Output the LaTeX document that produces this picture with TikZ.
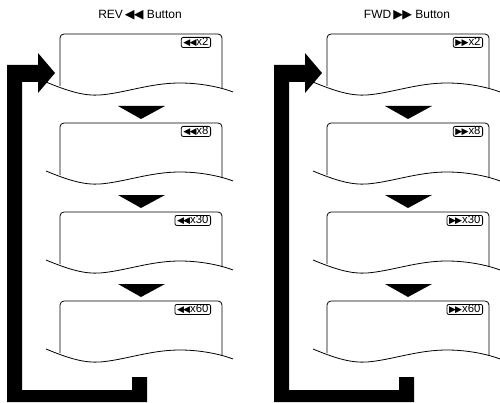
\documentclass[tikz,border=0pt]{standalone}
\usepackage{fontspec}
\setmainfont{Liberation Sans}
\newfontfamily\symfont{DejaVu Sans}

\tikzset{every picture/.style={line width=0.75pt}}
\tikzset{
  screen/.style={line width=0.6pt, rounded corners=3},
  wave/.style={line width=0.6pt},
  speed/.style={draw, rounded corners=1.5, line width=0.6pt, inner xsep=1.6pt, inner ysep=0.4pt, font=\fontsize{8.5}{8.5}\selectfont},
  title/.style={font=\fontsize{9}{10}\selectfont},
  stepdown/.style={fill=black},
  loopback/.style={fill=black}
}

\begin{document}
\begin{tikzpicture}[x=0.75pt,y=0.75pt,yscale=-1,xscale=1]
		\useasboundingbox (0,0) rectangle (500,403);
		
		%one column for each button
		\foreach \dx/\tri/\lx/\side/\word in {0/◀/211/rev/REV, 267/▶/216/fwd/FWD} {
		\begin{scope}[shift={(\dx,0)}]
		\node[title] (\side-title) at (140,15) {\word\,{\symfont\scalebox{1.05}{\tri\kern-0.5pt\tri}} Button};
		
		%Shape: screens with torn bottom
		\foreach \i/\n in {0/2,1/8,2/30,3/60} {
			\pgfmathsetmacro\yt{34+89*\i}
			\draw[screen] (60,\yt+52) -- (60,\yt) -- (222,\yt) -- (222,\yt+55) ;
			\draw[wave] (46,\yt+48) .. controls (70,\yt+58) and (85,\yt+62) .. (100,\yt+61) .. controls (125,\yt+59) and (150,\yt+49) .. (180,\yt+49) .. controls (200,\yt+49) and (220,\yt+53) .. (233,\yt+58) ;
			\node[speed, anchor=north east] (\side-x\n) at (\lx,\yt+3) {{\symfont\scalebox{0.8}{\tri\kern-0.8pt\tri}}x\n};
		}
		
		%Shape: Triangle
		\foreach \i in {0,1,2} {
			\pgfmathsetmacro\yt{34+89*\i}
			\fill[stepdown] (118,\yt+72) -- (165,\yt+72) -- (141,\yt+85) -- cycle ;
		}
		
		%Shape: return arrow
		\fill[loopback] (7,402) -- (7,65) -- (38,65) -- (38,53) -- (55,73) -- (38,93) -- (38,82) -- (22,82) -- (22,390) -- (132,390) -- (132,377) -- (147,377) -- (147,402) -- cycle ;
		\end{scope}
		}
		
	\end{tikzpicture}
\end{document}
